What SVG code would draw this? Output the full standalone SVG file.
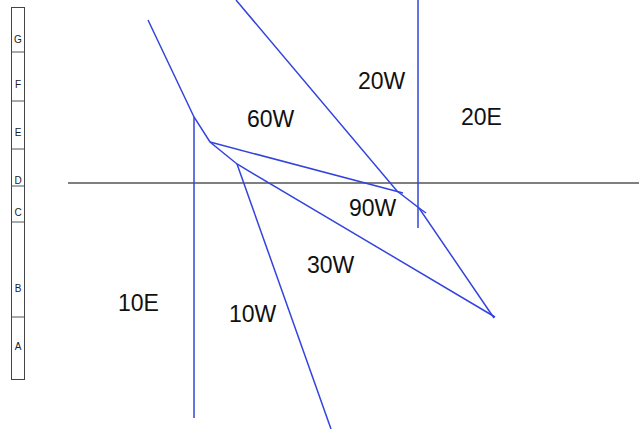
<svg xmlns="http://www.w3.org/2000/svg" width="639" height="429" viewBox="0 0 639 429">
<style>
.ln{fill:none;stroke:#3344dd;stroke-width:1.5;stroke-linejoin:miter}
.ax{stroke:#555;stroke-width:1.5}
.lbl{font-family:"Liberation Sans",Arial,sans-serif;font-size:23px;fill:#111}
.bar{font-family:"Liberation Sans",Arial,sans-serif;font-size:10px;fill:#222;text-anchor:middle}
.box{fill:#fff;stroke:#444;stroke-width:1}
</style>
<rect width="639" height="429" fill="#fff"/>
<g id="scale">
<rect class="box" x="11.5" y="7.5" width="13" height="372"/>
<line class="ax" style="stroke-width:1" x1="12" y1="52" x2="24" y2="52"/>
<line class="ax" style="stroke-width:1" x1="12" y1="101" x2="24" y2="101"/>
<line class="ax" style="stroke-width:1" x1="12" y1="149" x2="24" y2="149"/>
<line class="ax" style="stroke-width:1" x1="12" y1="186" x2="24" y2="186"/>
<line class="ax" style="stroke-width:1" x1="12" y1="222" x2="24" y2="222"/>
<line class="ax" style="stroke-width:1" x1="12" y1="317" x2="24" y2="317"/>
<text class="bar" x="18" y="43">G</text>
<text class="bar" x="18" y="88">F</text>
<text class="bar" x="18" y="136">E</text>
<text class="bar" x="18" y="184">D</text>
<text class="bar" x="18" y="216">C</text>
<text class="bar" x="18" y="292">B</text>
<text class="bar" x="18" y="350">A</text>
</g>
<g id="connectors">
<line class="ax" x1="68" y1="183" x2="639" y2="183"/>
<polyline class="ln" points="148,20 194,117 210,142 237,164 495,317"/>
<polyline class="ln" points="237,164 331,429"/>
<polyline class="ln" points="210,142 403,193"/>
<polyline class="ln" points="236,0 397,191 419,208 494,318"/>
<polyline class="ln" points="419,208 426,213"/>
<line class="ln" x1="194" y1="117" x2="194" y2="418"/>
<line class="ln" x1="418" y1="0" x2="418" y2="228"/>
</g>
<g id="labels">
<text class="lbl" x="358" y="89">20W</text>
<text class="lbl" x="461" y="125">20E</text>
<text class="lbl" x="247" y="127">60W</text>
<text class="lbl" x="349" y="216">90W</text>
<text class="lbl" x="307" y="273">30W</text>
<text class="lbl" x="118" y="311">10E</text>
<text class="lbl" x="229" y="322">10W</text>
</g>
</svg>
